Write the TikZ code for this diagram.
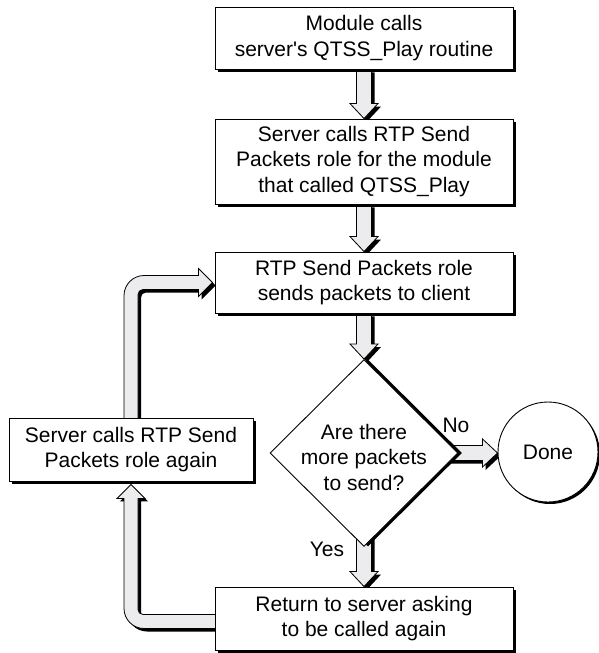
\documentclass[tikz,border=0pt]{standalone}
\usepackage{fontspec}
\setmainfont{Liberation Sans}
\usetikzlibrary{shapes.geometric,shadows,calc,backgrounds}
\definecolor{afill}{RGB}{236,236,238}
\newcommand{\vblk}[2]{\filldraw[blk] ($(#1)+(-7.5,0)$) -- ($(#2)+(-7.5,-15)$) -- ($(#2)+(-14,-15)$) -- (#2) -- ($(#2)+(14,-15)$) -- ($(#2)+(7.5,-15)$) -- ($(#1)+(7.5,0)$);}
\newcommand{\hblk}[2]{\filldraw[blk] ($(#1)+(0,-7.5)$) -- ($(#2)+(-15,-7.5)$) -- ($(#2)+(-15,-14)$) -- (#2) -- ($(#2)+(-15,14)$) -- ($(#2)+(-15,7.5)$) -- ($(#1)+(0,7.5)$);}
\begin{document}
\begin{tikzpicture}[x=1pt,y=-1pt,
  every node/.style={font=\fontsize{21}{25.5}\selectfont},
  shad/.style={drop shadow={shadow xshift=3pt,shadow yshift=-3pt,opacity=1,fill=black}},
  box/.style={draw, line width=0.9pt, fill=white, align=center, inner sep=0pt, shad},
  blk/.style={fill=afill, draw=black, line width=0.8pt, line join=miter, shad}]
\useasboundingbox (0,0) rectangle (599,653);
\node[box, minimum width=298pt, minimum height=62pt] (b1) at (364,38) {Module calls\\server\textquotesingle s QTSS\_Play routine};
\node[box, minimum width=298pt, minimum height=85pt] (b2) at (364,161.5) {Server calls RTP Send\\Packets role for the module\\that called QTSS\_Play};
\node[box, minimum width=298pt, minimum height=61pt] (b3) at (364,282.5) {RTP Send Packets role\\sends packets to client};
\node[diamond, draw, line width=0.9pt, fill=white, inner sep=0pt, minimum width=188pt, minimum height=187pt,
      drop shadow={shadow xshift=4pt,shadow yshift=0pt,opacity=1,fill=black}] (q) at (364,453) {};
\node[align=center] (qt) at (364,457) {Are there\\more packets\\to send?};
\node[circle, draw, line width=0.9pt, fill=white, inner sep=0pt, minimum size=100pt,
      drop shadow={shadow xshift=2pt,shadow yshift=-2pt,opacity=1,fill=black}] (done) at (548,452) {Done};
\node[box, minimum width=298pt, minimum height=63pt] (b4) at (364,618.5) {Return to server asking\\to be called again};
\node[box, minimum width=244pt, minimum height=63pt] (b5) at (131,449.5) {Server calls RTP Send\\Packets role again};
\node (no) at (456,425) {No};
\node (yes) at (327,549) {Yes};
\coordinate (qs) at ($(q.south)+(0,-12)$);
\coordinate (qe) at ($(q.east)+(-12,0)$);
\coordinate (dw) at (done.west |- q.east);
\coordinate (c1) at ($(b5.south |- b4.west)+(0,3)$);
\coordinate (t1) at ($(b5.south)+(0,3)$);
\coordinate (s1) at ($(b4.west)+(3,3)$);
\coordinate (c2) at (b5.north |- b3.west);
\coordinate (t2) at ($(b3.west)+(-2,0)$);
\coordinate (s2) at ($(b5.north)+(0,3)$);
\begin{scope}[on background layer]
\vblk{b1.south}{b2.north}
\vblk{b2.south}{b3.north}
\vblk{b3.south}{q.north}
\vblk{qs}{b4.north}
\hblk{qe}{dw}
\filldraw[blk] ($(s1)+(0,-7)$) -- ($(c1)+(12,-7)$) .. controls ($(c1)+(9.24,-7)$) and ($(c1)+(7,-9.24)$) .. ($(c1)+(7,-12)$) -- ($(t1)+(7,14)$) -- ($(t1)+(14,14)$) -- (t1) -- ($(t1)+(-14,14)$) -- ($(t1)+(-7,14)$) -- ($(c1)+(-7,-13)$) .. controls ($(c1)+(-7,-2)$) and ($(c1)+(2,7)$) .. ($(c1)+(13,7)$) -- ($(s1)+(0,7)$);
\filldraw[blk] ($(s2)+(-7,0)$) -- ($(c2)+(-7,13)$) .. controls ($(c2)+(-7,2)$) and ($(c2)+(2,-7)$) .. ($(c2)+(13,-7)$) -- ($(t2)+(-14,-7)$) -- ($(t2)+(-14,-14)$) -- (t2) -- ($(t2)+(-14,14)$) -- ($(t2)+(-14,7)$) -- ($(c2)+(12,7)$) .. controls ($(c2)+(9.24,7)$) and ($(c2)+(7,9.24)$) .. ($(c2)+(7,12)$) -- ($(s2)+(7,0)$);
\end{scope}
\end{tikzpicture}
\end{document}
